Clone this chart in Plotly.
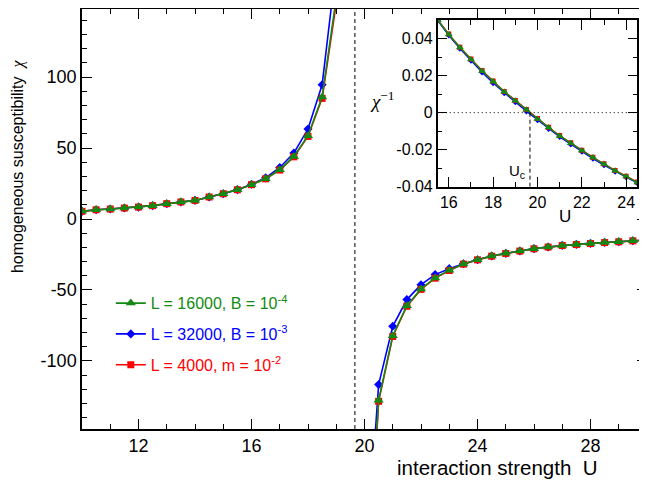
import plotly.graph_objects as go

# ---------------- data ----------------
U_left = [10, 10.5, 11, 11.5, 12, 12.5, 13, 13.5, 14, 14.5, 15, 15.5, 16, 16.5, 17, 17.5, 18, 18.5, 19]
U_right = [20, 20.5, 21, 21.5, 22, 22.5, 23, 23.5, 24, 24.5, 25, 25.5, 26, 26.5, 27, 27.5, 28, 28.5, 29, 29.5, 30]

chi_green_left = [5.4, 6.5, 7.0, 7.7, 8.4, 9.4, 10.8, 12.0, 13.1, 15.5, 17.8, 20.6, 24.2, 28.4, 34.7, 44.1, 58.7, 85.9, 156]
chi_blue_left = [5.4, 6.5, 7.0, 7.7, 8.4, 9.4, 10.8, 12.0, 13.1, 15.5, 17.8, 20.7, 24.5, 29.0, 36.3, 46.5, 63.4, 94.6, 179]
chi_red_left = [5.4, 6.5, 7.0, 7.7, 8.4, 9.4, 10.8, 12.0, 13.1, 15.5, 17.8, 20.6, 24.2, 28.3, 34.5, 43.8, 58.2, 85.0, 152]

chi_green_right = [-294, -127.7, -82.2, -61.1, -49.3, -41.5, -36.2, -31.7, -28.7, -26.1, -24.2, -22.5, -20.9, -19.7, -18.6, -17.9, -17.2, -16.5, -16.0, -15.3, -14.8]
chi_blue_right = [-260, -116.7, -75.6, -56.8, -46.3, -39.2, -35.0, -31.5, -28.7, -26.1, -24.2, -22.5, -20.9, -19.7, -18.6, -17.9, -17.2, -16.5, -16.0, -15.3, -14.8]
chi_red_right = [-300, -128.5, -82.8, -61.5, -49.6, -41.7, -36.3, -31.8, -28.8, -26.2, -24.3, -22.6, -21.0, -19.8, -18.7, -18.0, -17.3, -16.6, -16.1, -15.4, -14.9]

U_inset = [15.5, 16, 16.5, 17, 17.5, 18, 18.5, 19, 19.5, 20, 20.5, 21, 21.5, 22, 22.5, 23, 23.5, 24, 24.5]
inv_green = [0.0500, 0.0422, 0.0351, 0.0287, 0.0225, 0.0168, 0.0112, 0.0064, 0.0015, -0.0034, -0.0081, -0.0126, -0.0165, -0.0205, -0.0243, -0.0278, -0.0314, -0.0345, -0.0377]
inv_blue = [0.0497, 0.0418, 0.0346, 0.0281, 0.0218, 0.0160, 0.0106, 0.0057, 0.0008, -0.0040, -0.0087, -0.0131, -0.0171, -0.0210, -0.0248, -0.0283, -0.0318, -0.0349, -0.0380]
inv_red = [0.0502, 0.0424, 0.0353, 0.0289, 0.0227, 0.0170, 0.0114, 0.0066, 0.0017, -0.0032, -0.0079, -0.0124, -0.0163, -0.0203, -0.0241, -0.0276, -0.0312, -0.0343, -0.0375]

U_C = 19.66

main_xticks = [12, 16, 20, 24, 28]
main_xticklabels = ["12", "16", "20", "24", "28"]
main_yticks = [-100, -50, 0, 50, 100]
main_yticklabels = ["-100", "-50", "0", "50", "100"]
inset_xticks = [16, 18, 20, 22, 24]
inset_xticklabels = ["16", "18", "20", "22", "24"]
inset_yticks = [-0.04, -0.02, 0, 0.02, 0.04]
inset_yticklabels = ["-0.04", "-0.02", "0", "0.02", "0.04"]

GREEN = "#138a13"
BLUE = "#0000ff"
RED = "#ff0000"
FONT = "Liberation Sans, Arial, sans-serif"
SERIF = "Liberation Serif, Times New Roman, serif"

series = [
    # name, color, symbol, size, left, right, inset, rank
    ("L = 32000, B = 10<sup>-3</sup>", BLUE, "diamond", 7, chi_blue_left, chi_blue_right, inv_blue, 2),
    ("L = 4000, m = 10<sup>-2</sup>", RED, "square", 7, chi_red_left, chi_red_right, inv_red, 3),
    ("L = 16000, B = 10<sup>-4</sup>", GREEN, "triangle-up", 9, chi_green_left, chi_green_right, inv_green, 1),
]

fig = go.Figure()
for name, col, sym, size, left, right, inv, rank in series:
    fig.add_trace(go.Scatter(
        x=U_left + [None] + U_right, y=left + [None] + right,
        mode="lines+markers", name=f'<span style="color:{col}">{name}</span>',
        line=dict(color=col, width=1.6), marker=dict(symbol=sym, size=size, color=col),
        legendrank=rank, legendgroup=str(rank), xaxis="x", yaxis="y",
    ))
for name, col, sym, size, left, right, inv, rank in series:
    fig.add_trace(go.Scatter(
        x=U_inset, y=inv, mode="lines+markers", showlegend=False,
        line=dict(color=col, width=1.4), marker=dict(symbol=sym, size=size - 2, color=col),
        xaxis="x2", yaxis="y2",
    ))

ax_common = dict(showline=True, linecolor="black", linewidth=1.5, mirror="allticks",
                 ticks="inside", tickcolor="black", tickwidth=1, showgrid=False, zeroline=False,
                 automargin=False, tickfont=dict(family=FONT, size=18, color="black"))
inset_font = dict(family=FONT, size=16, color="black")

# page body has an 8px default margin: compensate so the plot lands where the reference has it
fig.update_layout(
    width=639, height=473,
    margin=dict(l=74, r=0, t=1, b=52, autoexpand=False),
    paper_bgcolor="white", plot_bgcolor="white",
    font=dict(family=FONT, color="black"),
    xaxis=dict(range=[10, 30], domain=[0, 1], anchor="y", tickvals=main_xticks, ticktext=main_xticklabels,
               ticklen=10, minor=dict(dtick=1, tick0=10, ticklen=5, ticks="inside", tickcolor="black"),
               **ax_common),
    yaxis=dict(range=[-148, 148], domain=[0, 1], anchor="x", tickvals=main_yticks, ticktext=main_yticklabels,
               ticklen=10, minor=dict(dtick=10, tick0=0, ticklen=5, ticks="inside", tickcolor="black"),
               **ax_common),
    xaxis2=dict(range=[15.5, 24.5], domain=[0.6296, 0.9828], anchor="y2", tickvals=inset_xticks,
                ticktext=inset_xticklabels, ticklen=10,
                minor=dict(dtick=1, tick0=15, ticklen=5, ticks="inside", tickcolor="black"),
                **{**ax_common, "tickfont": inset_font}),
    yaxis2=dict(range=[-0.04, 0.05], domain=[0.5769, 0.9738], anchor="x2", tickvals=inset_yticks,
                ticktext=inset_yticklabels, ticklen=10,
                minor=dict(dtick=0.01, tick0=0, ticklen=5, ticks="inside", tickcolor="black"),
                **{**ax_common, "tickfont": inset_font}),
    legend=dict(x=0.051, y=0.34, xanchor="left", yanchor="top", bgcolor="rgba(0,0,0,0)",
                font=dict(family=FONT, size=16), tracegroupgap=7, itemwidth=30),
    showlegend=True,
)

fig.add_shape(type="line", xref="x", yref="y domain", x0=U_C, x1=U_C, y0=0, y1=1,
              line=dict(color="black", width=1, dash="4px,3px"))
fig.add_shape(type="line", xref="x2", yref="y2", x0=U_C, x1=U_C, y0=-0.04, y1=0,
              line=dict(color="black", width=1, dash="4px,3px"))
fig.add_shape(type="line", xref="x2", yref="y2", x0=15.5, x1=24.5, y0=0, y1=0,
              line=dict(color="black", width=1, dash="1px,3px"))

ann = dict(xref="paper", yref="paper", showarrow=False, xanchor="center", yanchor="middle")
fig.add_annotation(text=f'homogeneous susceptibility  <span style="font-family:{SERIF}"><i>χ</i></span>',
                   x=-0.1133, y=0.626, textangle=-90, font=dict(family=FONT, size=16, color="black"), **ann)
fig.add_annotation(text="interaction strength  U", x=0.736, y=-0.0905,
                   font=dict(family=FONT, size=20.5, color="black"), **ann)
fig.add_annotation(text=f'<span style="font-family:{SERIF}"><i>χ</i></span><sup>−1</sup>',
                   x=0.531, y=0.783, font=dict(family=SERIF, size=19, color="black"), **ann)
fig.add_annotation(text="U", x=0.855, y=0.5055, font=dict(family=FONT, size=17, color="black"), **ann)
fig.add_annotation(text="U<sub>c</sub>", x=0.770, y=0.612, font=dict(family=FONT, size=15, color="black"), **ann)

fig.write_html("out.html")
